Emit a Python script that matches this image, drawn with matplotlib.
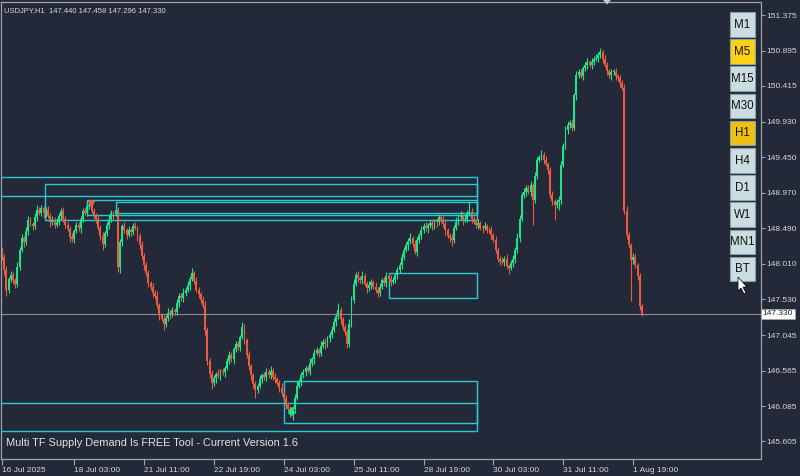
import matplotlib.pyplot as plt
from matplotlib.patches import Rectangle, Polygon
import numpy as np

# hourly closes, USDJPY H1 (open of each bar = previous close)
first_open = 148.18
closes = [
    148.10, 147.92, 147.66, 147.80, 147.86, 147.79, 147.74, 147.97, 148.20, 148.36,
    148.30, 148.45, 148.60, 148.55, 148.52, 148.64, 148.74, 148.70, 148.76, 148.69,
    148.74, 148.66, 148.57, 148.60, 148.54, 148.58, 148.66, 148.72, 148.62, 148.53,
    148.48, 148.37, 148.34, 148.45, 148.53, 148.49, 148.62, 148.72, 148.70, 148.79,
    148.81, 148.72, 148.66, 148.62, 148.50, 148.38, 148.28, 148.42, 148.53, 148.62,
    148.70, 148.68, 148.74, 147.96, 148.30, 148.52, 148.46, 148.40, 148.47, 148.44,
    148.52, 148.49, 148.38, 148.26, 148.12, 147.99, 147.88, 147.75, 147.70, 147.62,
    147.58, 147.45, 147.31, 147.26, 147.20, 147.28, 147.35, 147.32, 147.38, 147.36,
    147.48, 147.58, 147.54, 147.62, 147.66, 147.72, 147.81, 147.88, 147.78, 147.66,
    147.60, 147.52, 147.44, 147.12, 146.70, 146.52, 146.40, 146.46, 146.52, 146.49,
    146.55, 146.54, 146.60, 146.70, 146.77, 146.72, 146.85, 146.92, 146.88, 147.02,
    147.15, 146.98, 146.78, 146.62, 146.50, 146.38, 146.30, 146.36, 146.45, 146.50,
    146.48, 146.55, 146.50, 146.56, 146.48, 146.45, 146.40, 146.33, 146.26, 146.18,
    146.10, 146.05, 146.00, 146.04, 146.20, 146.36, 146.42, 146.50, 146.54, 146.60,
    146.56, 146.67, 146.72, 146.80, 146.84, 146.80, 146.90, 146.95, 146.92, 147.00,
    147.04, 147.12, 147.22, 147.30, 147.38, 147.26, 147.16, 147.08, 146.93, 147.20,
    147.52, 147.74, 147.86, 147.82, 147.79, 147.85, 147.74, 147.68, 147.72, 147.76,
    147.70, 147.66, 147.62, 147.70, 147.79, 147.75, 147.84, 147.81, 147.76, 147.79,
    147.86, 147.92, 147.99, 148.10, 148.20, 148.26, 148.32, 148.36, 148.28, 148.17,
    148.33, 148.40, 148.46, 148.52, 148.49, 148.53, 148.56, 148.52, 148.58, 148.57,
    148.64, 148.62, 148.55, 148.46, 148.39, 148.36, 148.33, 148.49, 148.58, 148.64,
    148.67, 148.60, 148.62, 148.70, 148.71, 148.62, 148.58, 148.53, 148.56, 148.50,
    148.49, 148.52, 148.47, 148.46, 148.40, 148.33, 148.20, 148.08, 148.05, 148.03,
    148.08, 147.98, 147.95, 148.02, 148.08, 148.20, 148.36, 148.62, 148.94, 148.98,
    149.03, 148.98, 149.07, 148.87, 149.20, 149.41, 149.45, 149.48, 149.42, 149.36,
    149.28, 148.94, 148.86, 148.80, 148.84, 148.87, 149.35, 149.60, 149.82, 149.89,
    149.92, 149.85, 150.29, 150.56, 150.60, 150.55, 150.66, 150.70, 150.74, 150.70,
    150.74, 150.78, 150.79, 150.84, 150.87, 150.78, 150.70, 150.62, 150.56, 150.60,
    150.60, 150.55, 150.52, 150.46, 150.39, 148.73, 148.40, 148.26, 148.06, 148.10,
    147.99, 147.85, 147.44, 147.33,
]
# wick lengths above / below the body, in pips
wick_up = [
    5, 4, 6, 3, 5, 4, 3, 6, 4, 5, 3, 6, 5, 4, 3, 5, 6, 4, 5, 3,
    4, 5, 3, 6, 4, 5, 3, 4, 6, 3, 5, 4, 6, 3, 5, 4, 3, 5, 4, 6,
    6, 5, 4, 3, 5, 4, 6, 3, 4, 5, 4, 3, 5, 4, 5, 3, 6, 4, 5, 3,
    4, 5, 3, 4, 6, 3, 5, 4, 3, 5, 4, 6, 3, 4, 5, 3, 6, 4, 5, 3,
    5, 4, 3, 6, 4, 5, 4, 7, 3, 5, 4, 3, 5, 6, 4, 3, 5, 4, 3, 6,
    4, 5, 3, 4, 6, 5, 3, 4, 5, 3, 7, 4, 3, 5, 4, 3, 5, 4, 6, 3,
    4, 5, 3, 6, 4, 5, 3, 4, 6, 3, 5, 4, 3, 4, 5, 6, 3, 4, 5, 3,
    4, 6, 3, 5, 4, 3, 6, 4, 5, 3, 4, 5, 6, 4, 10, 5, 3, 4, 5, 6,
    5, 6, 4, 5, 3, 6, 4, 3, 5, 4, 3, 6, 4, 5, 3, 4, 6, 3, 5, 4,
    3, 5, 4, 6, 3, 5, 4, 6, 3, 5, 4, 3, 6, 4, 5, 3, 4, 6, 3, 5,
    4, 5, 3, 6, 4, 3, 5, 4, 6, 3, 5, 4, 6, 4, 13, 5, 3, 4, 5, 3,
    4, 5, 3, 4, 6, 3, 5, 4, 3, 5, 4, 6, 3, 4, 5, 3, 6, 5, 4, 6,
    5, 4, 6, 3, 5, 4, 3, 7, 4, 5, 3, 4, 5, 3, 4, 6, 5, 4, 6, 5,
    4, 5, 3, 6, 4, 5, 3, 4, 6, 3, 5, 4, 6, 4, 6, 3, 5, 4, 3, 5,
    4, 6, 3, 5, 4, 5, 6, 4, 3, 5, 4, 3, 4, 2,
]
wick_dn = [
    4, 6, 8, 5, 4, 5, 6, 4, 5, 3, 6, 4, 5, 3, 6, 4, 5, 3, 4, 6,
    5, 3, 6, 4, 5, 3, 4, 6, 5, 4, 3, 6, 4, 5, 3, 4, 6, 5, 3, 4,
    4, 3, 5, 6, 4, 5, 9, 4, 3, 5, 4, 6, 3, 6, 8, 5, 4, 6, 3, 5,
    4, 3, 6, 5, 4, 6, 3, 5, 4, 6, 5, 4, 6, 3, 9, 5, 4, 6, 3, 5,
    4, 6, 3, 5, 4, 3, 6, 4, 5, 3, 6, 4, 3, 8, 6, 5, 8, 4, 6, 3,
    5, 4, 6, 3, 5, 4, 6, 3, 4, 5, 3, 6, 4, 5, 6, 5, 11, 4, 3, 5,
    4, 6, 3, 5, 4, 6, 3, 5, 4, 6, 5, 4, 6, 11, 5, 4, 3, 6, 4, 5,
    3, 5, 4, 6, 3, 5, 4, 3, 6, 4, 5, 3, 4, 5, 4, 6, 5, 4, 6, 4,
    5, 4, 3, 6, 4, 5, 3, 6, 4, 5, 3, 4, 6, 5, 3, 4, 6, 4, 5, 3,
    4, 6, 3, 5, 4, 3, 6, 4, 5, 3, 6, 4, 5, 3, 4, 6, 3, 5, 4, 6,
    3, 5, 4, 6, 3, 5, 8, 4, 3, 5, 4, 6, 3, 5, 4, 6, 3, 4, 5, 4,
    6, 3, 5, 4, 6, 3, 5, 4, 6, 3, 5, 4, 8, 3, 5, 6, 4, 5, 3, 4,
    6, 3, 5, 33, 4, 5, 3, 4, 6, 3, 5, 4, 6, 20, 4, 10, 5, 3, 4, 6,
    4, 5, 3, 6, 4, 3, 5, 4, 6, 3, 5, 4, 3, 5, 4, 6, 3, 5, 4, 6,
    3, 5, 4, 6, 3, 5, 6, 4, 55, 5, 4, 6, 5, 3,
]

# supply / demand zones (bar index where they start, price range)
zone_start = [-3, 19.7, 38.9, 52.2, 177.2, 129.1, -3]
zone_end = 217.5
zone_top = [149.19, 149.09, 148.87, 148.84, 147.89, 146.42, 146.12]
zone_bottom = [148.92, 148.60, 148.67, 148.69, 147.54, 145.85, 145.75]

y_ticks = [151.375, 150.895, 150.415, 149.930, 149.450, 148.970,
           148.490, 148.010, 147.530, 147.045, 146.565, 146.085, 145.605]
x_tick_bars = [0, 33, 65, 97, 129, 161, 193, 225, 257, 289]
x_tick_labels = ['16 Jul 2025', '18 Jul 03:00', '21 Jul 11:00', '22 Jul 19:00',
                 '24 Jul 03:00', '25 Jul 11:00', '28 Jul 19:00', '30 Jul 03:00',
                 '31 Jul 11:00', '1 Aug 19:00']
buttons = ['M1', 'M5', 'M15', 'M30', 'H1', 'H4', 'D1', 'W1', 'MN1', 'BT']
button_on = {'M5': '#ffd114', 'H1': '#f0c010'}
last_price = 147.330
header = 'USDJPY,H1  147.440 147.458 147.296 147.330'
footer = 'Multi TF Supply Demand Is FREE Tool - Current Version 1.6'

BG = '#232938'
GREEN = '#1de58a'
RED = '#ee5a3e'
ZONE = '#27cad4'
FRAME = '#9ea4ac'
TXT = '#d6d6d6'

plt.rcParams['font.family'] = ['Liberation Sans', 'DejaVu Sans']

W, H = 800, 476
fig = plt.figure(figsize=(W / 100, H / 100), dpi=100)
fig.patch.set_facecolor(BG)


def fx(x, y):
    return x / W, 1 - y / H


ax = fig.add_axes([1 / W, 1 - 459 / H, 759.5 / W, 457.5 / H])
ax.set_facecolor(BG)

c = np.array(closes)
o = np.concatenate([[first_open], c[:-1]])
hi = np.maximum(o, c) + np.array(wick_up) / 100
lo = np.minimum(o, c) - np.array(wick_dn) / 100
idx = np.arange(len(c))
cols = np.where(c >= o, GREEN, RED)
ax.vlines(idx, lo, hi, colors=cols, lw=0.8)
ax.bar(idx, np.maximum(np.abs(c - o), 0.012), bottom=np.minimum(o, c),
       width=0.88, color=cols, linewidth=0)

for s, t, b in zip(zone_start, zone_top, zone_bottom):
    ax.add_patch(Rectangle((s, b), zone_end - s, t - b, fill=False,
                           ec=ZONE, lw=1.0))

# signal arrows
ax.annotate('', xy=(41, 148.72), xytext=(41, 148.88),
            arrowprops=dict(arrowstyle='-|>', color=RED, lw=1.4, mutation_scale=9))
ax.annotate('', xy=(132.6, 146.12), xytext=(132.6, 145.92),
            arrowprops=dict(arrowstyle='-|>', color=GREEN, lw=1.4, mutation_scale=9))

ax.axhline(last_price, color='#8e8e8e', lw=0.8)

ax.set_xlim(-0.5, 347.3)
ax.set_ylim(145.368, 151.558)

ax.yaxis.tick_right()
ax.set_yticks(y_ticks, labels=[f'{v:.3f}' for v in y_ticks])
ax.tick_params(axis='y', length=3, color=FRAME, labelcolor=TXT, labelsize=6, pad=1.5)
ax.set_xticks(x_tick_bars)
ax.set_xticklabels(x_tick_labels, ha='left')
ax.tick_params(axis='x', length=4, color=FRAME, labelcolor=TXT, labelsize=6, pad=1.5)
for sp in ax.spines.values():
    sp.set_color(FRAME)
    sp.set_linewidth(0.9)

ax.text(1.003, last_price, f'{last_price:.3f}', transform=ax.get_yaxis_transform(),
        va='center', ha='left', fontsize=6, color='#202020', clip_on=False,
        bbox=dict(boxstyle='square,pad=0.2', fc='white', ec='#a0a0a0', lw=0.6))

fig.text(*fx(4, 11), header, color=TXT, fontsize=5.5, va='center', ha='left')
fig.text(*fx(6, 443), footer, color='#e2e2e2', fontsize=7.9, va='center', ha='left')

# timeframe buttons
for k, name in enumerate(buttons):
    top = 12 + k * 27.2
    x0, y0 = fx(730, top + 24.5)
    fig.add_artist(Rectangle((x0, y0), 25 / W, 24.5 / H, transform=fig.transFigure,
                             fc=button_on.get(name, '#cadde1'), ec='#8aa0a6', lw=0.8))
    fig.text(*fx(742.5, top + 12.5), name, color='#111111', fontsize=8.3,
             ha='center', va='center')

# mouse cursor and chart shift marker
cur = [(738, 277), (738, 291), (741, 288), (744, 294), (746, 293), (743, 287), (747, 287)]
fig.add_artist(Polygon([fx(*p) for p in cur], closed=True, transform=fig.transFigure,
                       fc='white', ec='black', lw=0.5))
fig.add_artist(Polygon([fx(603, 0), fx(611, 0), fx(607, 4.5)], closed=True,
                       transform=fig.transFigure, fc='#c8c8c8', ec='none'))

fig.savefig('out.png', dpi=100, facecolor=BG)
